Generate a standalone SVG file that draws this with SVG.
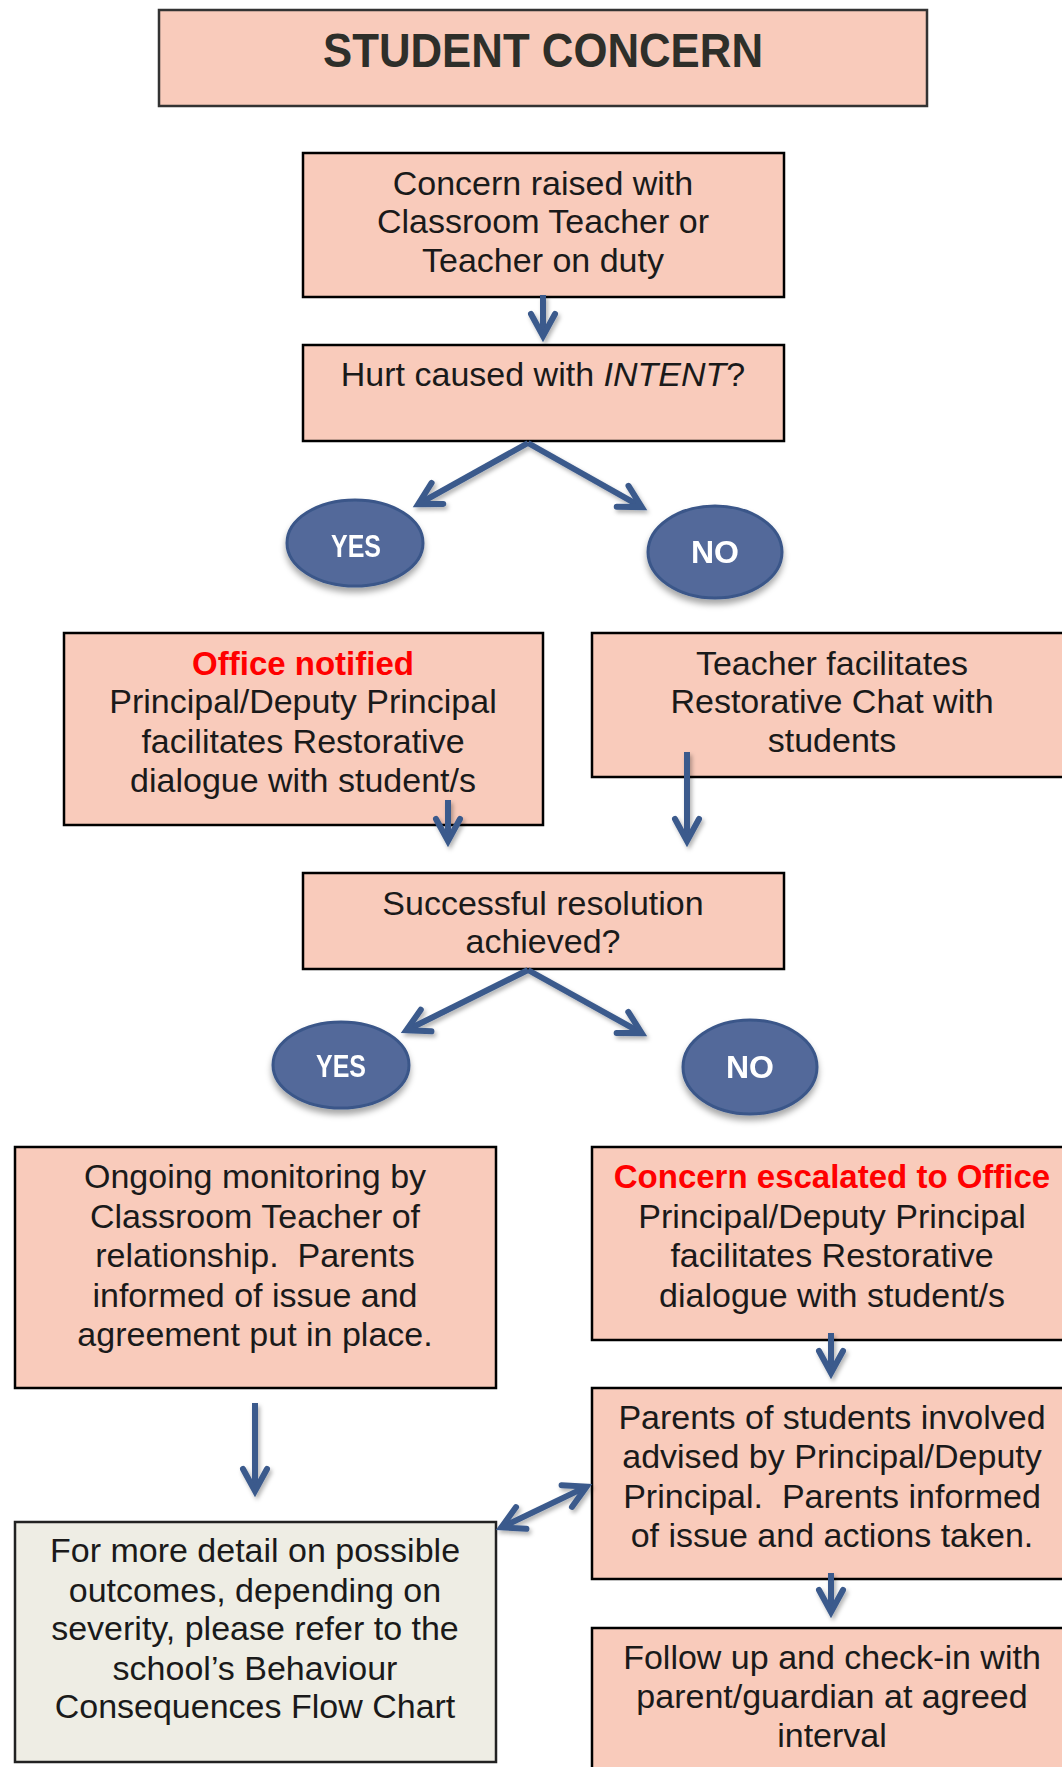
<svg xmlns="http://www.w3.org/2000/svg" width="1062" height="1767" viewBox="0 0 1062 1767">
<style>
.box{fill:#F9CBBB;stroke:#000;stroke-width:2.5}
.grey{fill:#EEEDE4;stroke:#222;stroke-width:2.5}
.t{font-family:"Liberation Sans",Arial,sans-serif;font-size:34px;fill:#1a1a1a;text-anchor:middle}
.red{fill:#FF0000;font-weight:bold;font-size:33px}
.oval{fill:#52699A;stroke:#3A5789;stroke-width:3}
.ot{font-family:"Liberation Sans",Arial,sans-serif;font-size:31px;font-weight:bold;fill:#fff;text-anchor:middle}
.arr{fill:none;stroke:#3B5A8C;stroke-width:6;stroke-linecap:butt}
</style>
<defs>
<marker id="ah" viewBox="-30 -16 40 32" refX="0" refY="0" markerWidth="40" markerHeight="32" markerUnits="userSpaceOnUse" orient="auto-start-reverse">
<path d="M-22,-12 L0,0 L-22,12" fill="none" stroke="#3B5A8C" stroke-width="6" stroke-linecap="round" stroke-linejoin="miter"/>
</marker>
<filter id="sh" x="-20%" y="-20%" width="140%" height="160%">
<feDropShadow dx="2" dy="3" stdDeviation="2" flood-color="#000" flood-opacity="0.3"/>
</filter>
<filter id="osh" x="-20%" y="-20%" width="140%" height="160%">
<feDropShadow dx="0" dy="5" stdDeviation="3" flood-color="#000" flood-opacity="0.35"/>
</filter>
</defs>
<rect width="1062" height="1767" fill="#fff"/>

<g id="title">
<rect x="159" y="10" width="768" height="96" fill="#F9CBBB" stroke="#333" stroke-width="2.5"/>
<text x="543" y="67" font-family="'Liberation Sans',Arial,sans-serif" font-size="48" font-weight="bold" fill="#2E2F2A" text-anchor="middle" textLength="440" lengthAdjust="spacingAndGlyphs">STUDENT CONCERN</text>
</g>

<g id="n-concern-raised">
<rect class="box" x="303" y="153" width="481" height="144"/>
<text class="t" x="543" y="195">Concern raised with</text>
<text class="t" x="543" y="233">Classroom Teacher or</text>
<text class="t" x="543" y="272">Teacher on duty</text>
</g>

<g id="n-hurt-intent">
<rect class="box" x="303" y="345" width="481" height="96"/>
<text class="t" x="543" y="386">Hurt caused with <tspan font-style="italic">INTENT</tspan>?</text>
</g>

<g id="n-yes1" filter="url(#osh)">
<ellipse class="oval" cx="355" cy="543" rx="68" ry="43"/>
<text class="ot" x="356" y="557" textLength="50" lengthAdjust="spacingAndGlyphs">YES</text>
</g>

<g id="n-no1" filter="url(#osh)">
<ellipse class="oval" cx="715" cy="552" rx="67" ry="46"/>
<text class="ot" x="715" y="563" textLength="48" lengthAdjust="spacingAndGlyphs">NO</text>
</g>

<g id="n-office-notified">
<rect class="box" x="64" y="633" width="479" height="192"/>
<text class="t red" x="303" y="675">Office notified</text>
<text class="t" x="303" y="713">Principal/Deputy Principal</text>
<text class="t" x="303" y="753">facilitates Restorative</text>
<text class="t" x="303" y="792">dialogue with student/s</text>
</g>

<g id="n-teacher-facilitates">
<rect class="box" x="592" y="633" width="490" height="144"/>
<text class="t" x="832" y="675">Teacher facilitates</text>
<text class="t" x="832" y="713">Restorative Chat with</text>
<text class="t" x="832" y="752">students</text>
</g>

<g id="n-successful">
<rect class="box" x="303" y="873" width="481" height="96"/>
<text class="t" x="543" y="915">Successful resolution</text>
<text class="t" x="543" y="953">achieved?</text>
</g>

<g id="n-yes2" filter="url(#osh)">
<ellipse class="oval" cx="341" cy="1065" rx="68" ry="43"/>
<text class="ot" x="341" y="1077" textLength="50" lengthAdjust="spacingAndGlyphs">YES</text>
</g>

<g id="n-no2" filter="url(#osh)">
<ellipse class="oval" cx="750" cy="1067" rx="67" ry="47"/>
<text class="ot" x="750" y="1078" textLength="48" lengthAdjust="spacingAndGlyphs">NO</text>
</g>

<g id="n-ongoing">
<rect class="box" x="15" y="1147" width="481" height="241"/>
<text class="t" x="255" y="1188">Ongoing monitoring by</text>
<text class="t" x="255" y="1228">Classroom Teacher of</text>
<text class="t" x="255" y="1267" xml:space="preserve">relationship.  Parents</text>
<text class="t" x="255" y="1307">informed of issue and</text>
<text class="t" x="255" y="1346">agreement put in place.</text>
</g>

<g id="n-escalated">
<rect class="box" x="592" y="1147" width="490" height="193"/>
<text class="t red" x="832" y="1188">Concern escalated to Office</text>
<text class="t" x="832" y="1228">Principal/Deputy Principal</text>
<text class="t" x="832" y="1267">facilitates Restorative</text>
<text class="t" x="832" y="1307">dialogue with student/s</text>
</g>

<g id="n-parents">
<rect class="box" x="592" y="1388" width="490" height="191"/>
<text class="t" x="832" y="1429">Parents of students involved</text>
<text class="t" x="832" y="1468">advised by Principal/Deputy</text>
<text class="t" x="832" y="1508" xml:space="preserve">Principal.  Parents informed</text>
<text class="t" x="832" y="1547">of issue and actions taken.</text>
</g>

<g id="n-follow-up">
<rect class="box" x="592" y="1628" width="490" height="160"/>
<text class="t" x="832" y="1669">Follow up and check-in with</text>
<text class="t" x="832" y="1708">parent/guardian at agreed</text>
<text class="t" x="832" y="1747">interval</text>
</g>

<g id="n-more-detail">
<rect class="grey" x="15" y="1522" width="481" height="240"/>
<text class="t" x="255" y="1562">For more detail on possible</text>
<text class="t" x="255" y="1602">outcomes, depending on</text>
<text class="t" x="255" y="1640">severity, please refer to the</text>
<text class="t" x="255" y="1680">school’s Behaviour</text>
<text class="t" x="255" y="1718">Consequences Flow Chart</text>
</g>

<g id="connectors" filter="url(#sh)">
<path class="arr" marker-end="url(#ah)" d="M543,295 L543,336"/>
<path class="arr" marker-end="url(#ah)" d="M528,443 L418.2,504.1"/>
<path class="arr" marker-end="url(#ah)" d="M528,443 L641.8,507.1"/>
<path class="arr" marker-end="url(#ah)" d="M448,800 L448,841"/>
<path class="arr" marker-end="url(#ah)" d="M687,752 L687,841"/>
<path class="arr" marker-end="url(#ah)" d="M528,970 L406.4,1030.3"/>
<path class="arr" marker-end="url(#ah)" d="M528,970 L641.7,1033.1"/>
<path class="arr" marker-end="url(#ah)" d="M831,1333 L831,1373"/>
<path class="arr" marker-end="url(#ah)" d="M831,1573 L831,1612"/>
<path class="arr" marker-end="url(#ah)" d="M255,1403 L255,1491"/>
<path class="arr" marker-start="url(#ah)" marker-end="url(#ah)" d="M501.4,1527.4 L586.6,1486.6"/>
</g>
</svg>
